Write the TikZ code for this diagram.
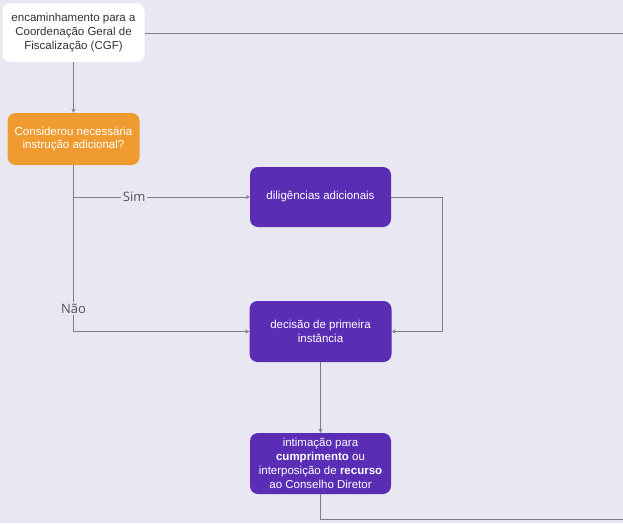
\documentclass[tikz,border=0pt]{standalone}
\usepackage{fontspec}
\setmainfont{Liberation Sans}
\newfontfamily\rotfont{Open Sans}
\usepackage{tikz}
\usetikzlibrary{arrows}

\definecolor{fundo}{HTML}{E9E8F2}
\definecolor{laranja}{HTML}{EF9B30}
\definecolor{roxo}{HTML}{5A2DB5}
\definecolor{linha}{HTML}{7E7C88}
\definecolor{rotulo}{HTML}{505058}

\tikzset{
  caixa/.style={rounded corners=8pt, align=center, inner sep=0pt,
    minimum width=141pt, minimum height=60pt,
    font=\fontsize{11.5}{13.8}\selectfont},
  etapa/.style={caixa, fill=roxo, text=white},
  conexao/.style={draw=linha, line width=0.8pt},
  rot/.style={fill=fundo, text=rotulo, inner sep=2pt,
    font=\rotfont\fontsize{13}{14}\selectfont}
}

\begin{document}
\begin{tikzpicture}[x=1pt, y=-1pt, >=stealth]
\fill[fundo] (0,0) rectangle (623,523);
\useasboundingbox (0,0) rectangle (623,523);
\node[caixa, fill=white, text=black!80, minimum width=142pt, minimum height=59pt] (cgf) at (73.5,32.5)
  {encaminhamento para a\\Coordenação Geral de\\Fiscalização (CGF)};
\node[caixa, fill=laranja, text=white, minimum width=132pt, minimum height=52pt] (instr) at (73.5,139)
  {Considerou necessária\\instrução adicional?};
\node[etapa] (dilig) at (320.5,197) {diligências adicionais};
\node[etapa, minimum width=142pt, minimum height=61pt] (dec) at (320.5,331.5) {decisão de primeira\\instância};
\node[etapa, minimum height=61pt] (intim) at (320.5,463.5)
  {intimação para\\\textbf{cumprimento} ou\\interposição de \textbf{recurso}\\ao Conselho Diretor};
\coordinate (fimtopo) at (623,33);
\coordinate (volta) at (442.5,264);
\coordinate (fimbase) at (623,519);
\draw[conexao] (cgf.east |- fimtopo) -- (fimtopo);
\draw[conexao,->] (cgf.south) -- (instr.north);
\draw[conexao,->] (instr.south) |- node[rot, pos=0.672] {Sim} (dilig.west);
\draw[conexao,->] (instr.south) |- node[rot, pos=0.431] {Não} (dec.west);
\draw[conexao,->] (dilig.east) -| (volta) |- (dec.east);
\draw[conexao,->] (dec.south) -- (intim.north);
\draw[conexao] (intim.south) |- (fimbase);
\end{tikzpicture}
\end{document}
